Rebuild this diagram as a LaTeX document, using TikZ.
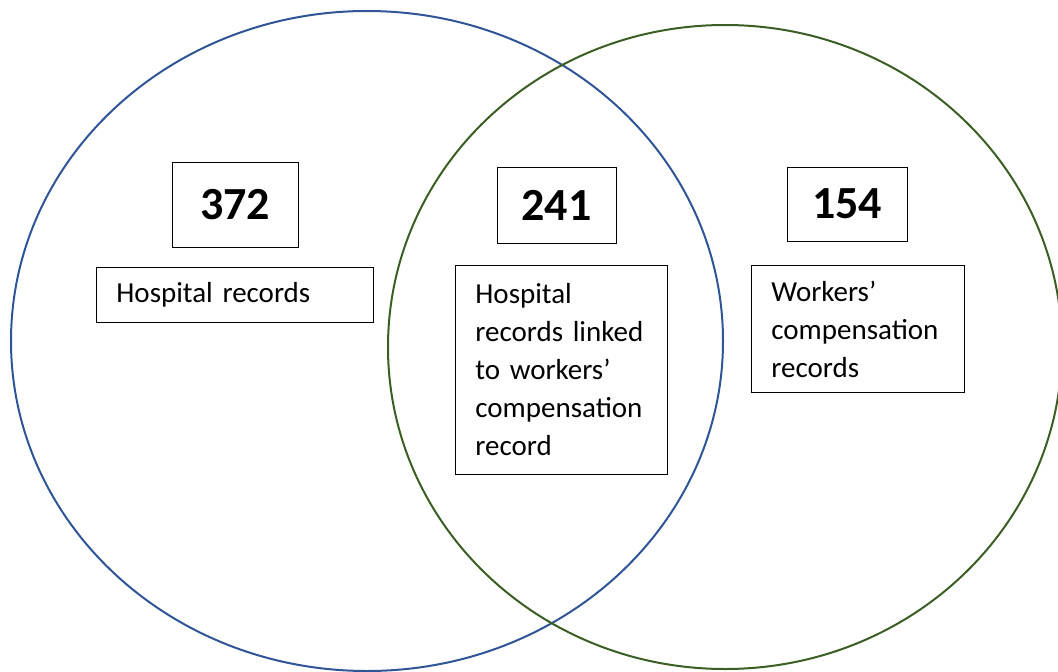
\documentclass[tikz,border=0pt]{standalone}
\usepackage{fontspec}
\setmainfont{Carlito}
\definecolor{setblue}{HTML}{2F5597}
\definecolor{setgreen}{HTML}{3B5E24}
\begin{document}
\begin{tikzpicture}[x=1pt, y=-1pt,
  numbox/.style={draw, line width=0.8pt, inner sep=0pt, font=\fontsize{46}{50}\selectfont\bfseries},
  labelbox/.style={draw, line width=0.8pt, anchor=north west, inner xsep=20pt, inner ysep=0pt,
    align=left, font=\fontsize{29}{38}\selectfont}]
\clip (0,0) rectangle (1058,672);

\draw[setblue, line width=2pt] (367,341) ellipse [x radius=356, y radius=330];
\draw[setgreen, line width=2pt] (725,347) ellipse [x radius=337, y radius=322];

\node[numbox, minimum width=126pt, minimum height=85pt] (hospnum) at (235,204.5) {372};
\node[numbox, minimum width=119pt, minimum height=76pt] (linknum) at (556.5,205) {241};
\node[numbox, minimum width=120pt, minimum height=74pt] (compnum) at (847,204) {154};

\node[labelbox, text width=237pt, minimum height=55pt] (hosplabel) at (96,267) {Hospital records};
\node[labelbox, text width=172pt, minimum height=209pt] (linklabel) at (455,265)
  {Hospital\\records linked\\to workers’\\compensation\\record};
\node[labelbox, text width=173pt, minimum height=127pt] (complabel) at (751,265)
  {Workers’\\compensation\\records};
\end{tikzpicture}
\end{document}
